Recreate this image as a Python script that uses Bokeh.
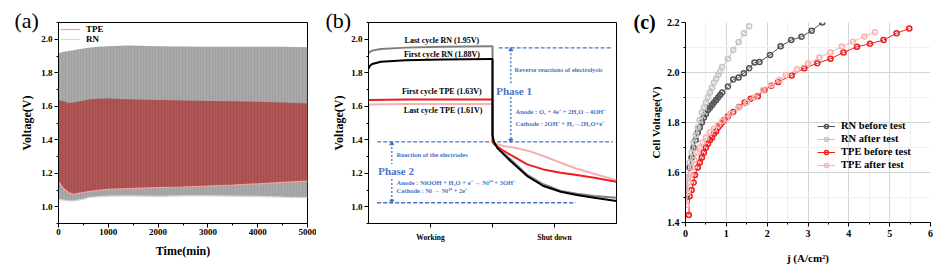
from bokeh.plotting import figure
from bokeh.layouts import row
from bokeh.models import (Legend, LegendItem, FixedTicker, Range1d, PrintfTickFormatter, Title)
from bokeh.core.properties import value
from bokeh.embed import file_html
from bokeh.resources import INLINE

SERIF = "Liberation Serif"

# ---------------- (a) long-term cycling envelopes ----------------
time_min = [0, 100, 200, 300, 400, 500, 600, 800, 1000, 1400, 2000, 2500, 3000, 3500, 4000, 4500, 5000]
rn_upper = [1.915, 1.925, 1.93, 1.935, 1.94, 1.945, 1.95, 1.955, 1.958, 1.962, 1.958, 1.957, 1.955, 1.955, 1.955, 1.955, 1.952]
rn_lower = [1.045, 1.04, 1.035, 1.035, 1.04, 1.045, 1.055, 1.06, 1.064, 1.065, 1.062, 1.065, 1.065, 1.064, 1.062, 1.058, 1.055]
tpe_upper = [1.637, 1.63, 1.62, 1.622, 1.628, 1.633, 1.64, 1.645, 1.647, 1.642, 1.637, 1.635, 1.632, 1.63, 1.627, 1.622, 1.617]
tpe_lower = [1.15, 1.11, 1.085, 1.074, 1.08, 1.085, 1.09, 1.098, 1.104, 1.108, 1.114, 1.118, 1.124, 1.13, 1.137, 1.145, 1.153]

# ---------------- (b) single-cycle profiles ----------------
b_x_rn = [0, 0.01, 0.03, 0.1, 0.3, 0.6, 0.99, 1.0, 1.0, 1.01, 1.04, 1.145, 1.28, 1.41, 1.55, 1.68, 1.82, 2.0]
rn_last = [1.915, 1.925, 1.932, 1.942, 1.95, 1.955, 1.958, 1.958, 1.43, 1.39, 1.35, 1.283, 1.19, 1.134, 1.094, 1.078, 1.064, 1.054]
rn_first = [1.825, 1.84, 1.852, 1.866, 1.875, 1.879, 1.882, 1.882, 1.43, 1.39, 1.35, 1.273, 1.183, 1.124, 1.09, 1.07, 1.054, 1.034]
b_x_tpe = [0, 0.01, 0.3, 0.6, 0.99, 1.0, 1.0, 1.01, 1.09, 1.28, 1.41, 1.55, 1.68, 1.82, 2.0]
tpe_first = [1.635, 1.638, 1.64, 1.641, 1.64, 1.64, 1.392, 1.375, 1.333, 1.253, 1.223, 1.203, 1.189, 1.173, 1.149]
b_x_tpe2 = [0, 0.0, 0.01, 0.3, 0.6, 0.99, 1.0, 1.0, 1.01, 1.09, 1.2, 1.31, 1.41, 1.55, 1.68, 1.82, 2.0]
tpe_last = [1.36, 1.605, 1.61, 1.613, 1.614, 1.614, 1.614, 1.392, 1.38, 1.363, 1.349, 1.329, 1.303, 1.263, 1.227, 1.197, 1.159]
b_tick_labels = {0.5: "Working", 1.0: "", 1.5: "Shut down"}

# ---------------- (c) polarization curves ----------------
rn_before_j = [0.02, 0.05, 0.1, 0.15, 0.2, 0.25, 0.3, 0.35, 0.4, 0.45, 0.5, 0.55, 0.6, 0.65, 0.7, 0.75, 0.8, 0.85, 0.9,
               1.04, 1.17, 1.30, 1.43, 1.56, 1.69, 1.81, 2.07, 2.33, 2.59, 2.84, 3.09, 3.35]
rn_before_v = [1.50, 1.58, 1.62, 1.66, 1.70, 1.73, 1.76, 1.78, 1.80, 1.82, 1.835, 1.85, 1.86, 1.87, 1.88, 1.89, 1.90, 1.91, 1.92,
               1.944, 1.972, 1.98, 1.997, 2.017, 2.04, 2.042, 2.07, 2.105, 2.13, 2.143, 2.167, 2.2]
rn_after_j = [0.02, 0.05, 0.1, 0.15, 0.2, 0.25, 0.3, 0.35, 0.4, 0.45, 0.5, 0.55, 0.6, 0.65, 0.7, 0.75, 0.8, 0.85, 0.9,
              1.04, 1.17, 1.30, 1.43, 1.56]
rn_after_v = [1.47, 1.58, 1.64, 1.68, 1.72, 1.75, 1.78, 1.81, 1.84, 1.86, 1.88, 1.90, 1.92, 1.94, 1.96, 1.975, 1.99, 2.005, 2.022,
              2.055, 2.09, 2.122, 2.157, 2.185]
tpe_before_j = [0.08, 0.1, 0.15, 0.2, 0.23, 0.3, 0.35, 0.4, 0.45, 0.5, 0.55, 0.6, 0.65, 0.7, 0.75, 0.8, 0.85, 0.9, 0.95,
                1.04, 1.17, 1.31, 1.45, 1.6, 1.77, 1.93, 2.10, 2.27, 2.6, 2.91, 3.23, 3.55, 3.87, 4.2, 4.52, 4.85, 5.17, 5.48]
tpe_before_v = [1.43, 1.505, 1.53, 1.56, 1.59, 1.62, 1.64, 1.66, 1.68, 1.70, 1.715, 1.73, 1.74, 1.755, 1.765, 1.78, 1.79, 1.80, 1.81,
                1.824, 1.842, 1.862, 1.88, 1.895, 1.905, 1.93, 1.947, 1.962, 1.988, 2.017, 2.037, 2.055, 2.08, 2.103, 2.115, 2.13, 2.157, 2.176]
tpe_after_j = [0.03, 0.05, 0.08, 0.12, 0.17, 0.22, 0.28, 0.35, 0.42, 0.5, 0.6, 0.7, 0.8, 0.9, 1.0,
               1.1, 1.3, 1.5, 1.7, 1.9, 2.1, 2.3, 2.46, 2.73, 3.0, 3.28, 3.55, 3.83, 4.1, 4.38, 4.64]
tpe_after_v = [1.47, 1.52, 1.56, 1.59, 1.62, 1.65, 1.68, 1.70, 1.72, 1.74, 1.76, 1.775, 1.79, 1.805, 1.815,
               1.835, 1.86, 1.88, 1.90, 1.93, 1.95, 1.97, 1.99, 2.013, 2.036, 2.06, 2.08, 2.104, 2.123, 2.144, 2.161]


def style_common(p, tick_size):
    for ax in (p.xaxis, p.yaxis):
        ax.major_label_text_font = SERIF
        ax.major_label_text_font_style = "bold"
        ax.major_label_text_font_size = tick_size
        ax.major_label_text_color = "black"
        ax.axis_label_text_font = SERIF
        ax.axis_label_text_font_style = "bold"
        ax.axis_label_text_font_size = "12px"
        ax.axis_label_text_color = "black"
        ax.axis_line_color = "black"
        ax.major_tick_line_color = "black"
        ax.minor_tick_line_color = "black"
        ax.major_tick_out = 4
        ax.major_tick_in = 0
        ax.minor_tick_out = 2
        ax.minor_tick_in = 0
        ax.major_label_standoff = 2
        ax.axis_label_standoff = 3
    p.background_fill_color = "white"
    p.border_fill_color = "white"


def panel_title(p, text, offset, size, style="normal"):
    p.add_layout(Title(text=text, align="left", offset=offset, standoff=-20, text_font=SERIF,
                       text_font_size=size, text_font_style=style, text_color="black"), "above")


# ===== panel (a) =====
pa = figure(frame_width=249, frame_height=201, min_border_left=58, min_border_right=9,
            min_border_top=22, min_border_bottom=46, output_backend="svg", toolbar_location=None,
            x_range=Range1d(0, 5000), y_range=Range1d(0.9, 2.1))
style_common(pa, "9px")
pa.xgrid.visible = False
pa.ygrid.visible = False
pa.outline_line_color = "black"
pa.outline_line_alpha = 1
pa.xaxis.ticker = FixedTicker(ticks=[0, 1000, 2000, 3000, 4000, 5000],
                              minor_ticks=[500, 1500, 2500, 3500, 4500])
pa.yaxis.ticker = FixedTicker(ticks=[1.0, 1.2, 1.4, 1.6, 1.8, 2.0],
                              minor_ticks=[0.9, 1.1, 1.3, 1.5, 1.7, 1.9, 2.1])
pa.yaxis.formatter = PrintfTickFormatter(format="%.1f")
pa.xaxis.axis_label = "Time(min)"
pa.yaxis.axis_label = "Voltage(V)"
pa.xaxis.major_label_standoff = 1
pa.xaxis.axis_label_standoff = 6
pa.yaxis.axis_label_standoff = 4
pa.varea(x=time_min, y1=rn_lower, y2=rn_upper, fill_color="#a9a9a9",
         hatch_pattern="vertical_line", hatch_color="#7a7a7a", hatch_alpha=0.35,
         hatch_scale=3, hatch_weight=0.6)
pa.varea(x=time_min, y1=tpe_lower, y2=tpe_upper, fill_color="#ae5555",
         hatch_pattern="vertical_line", hatch_color="#8a3030", hatch_alpha=0.35,
         hatch_scale=3, hatch_weight=0.6)
leg_tpe = pa.line(x=time_min, y=tpe_lower, line_color="#f4a0a0", line_width=1.2)
leg_rn = pa.line(x=time_min, y=rn_lower, line_color="#d6d6d6", line_width=1.2)
la = Legend(items=[LegendItem(label="TPE", renderers=[leg_tpe]),
                   LegendItem(label="RN", renderers=[leg_rn])],
            location="top_left", border_line_alpha=0, background_fill_alpha=0,
            label_text_font=SERIF, label_text_font_style="bold", label_text_font_size="9px",
            label_text_color="black",
            glyph_width=20, glyph_height=8, label_height=8, spacing=0, padding=1, margin=1,
            label_standoff=6)
pa.add_layout(la)
panel_title(pa, "(a)", -44, "22px")

# ===== panel (b) =====
pb = figure(frame_width=248, frame_height=201, min_border_left=52, min_border_right=16,
            min_border_top=22, min_border_bottom=46, output_backend="svg", toolbar_location=None,
            x_range=Range1d(0, 2), y_range=Range1d(0.9, 2.1))
style_common(pb, "9px")
pb.xgrid.visible = False
pb.ygrid.visible = False
pb.outline_line_color = "black"
pb.xaxis.ticker = FixedTicker(ticks=list(b_tick_labels.keys()), minor_ticks=[])
pb.xaxis.major_label_overrides = b_tick_labels
pb.xaxis.major_label_text_font_size = "7.5px"
pb.xaxis.major_label_standoff = 5
pb.yaxis.ticker = FixedTicker(ticks=[1.0, 1.2, 1.4, 1.6, 1.8, 2.0],
                              minor_ticks=[0.9, 1.1, 1.3, 1.5, 1.7, 1.9, 2.1])
pb.yaxis.formatter = PrintfTickFormatter(format="%.1f")
pb.yaxis.axis_label = "Voltage(V)"
pb.yaxis.axis_label_standoff = 2

blue = "#4a72c8"
pb.segment(x0=[1.05, 0.07, 0.07], y0=[1.948, 1.387, 1.024], x1=[1.97, 1.97, 1.67], y1=[1.948, 1.387, 1.024],
           line_color=blue, line_dash="4 2", line_width=1.3)
pb.segment(x0=[1.148, 1.148, 0.188, 0.188], y0=[1.94, 1.655, 1.38, 1.165],
           x1=[1.148, 1.148, 0.188, 0.188], y1=[1.735, 1.395, 1.255, 1.032],
           line_color=blue, line_dash="2 2", line_width=1.3)
pb.scatter(x=[1.148, 0.188], y=[1.938, 1.377], marker="triangle", size=4, color=blue)
pb.scatter(x=[1.148, 0.188], y=[1.397, 1.034], marker="inverted_triangle", size=4, color=blue)

pb.line(b_x_tpe2, tpe_last, line_color="#f7b0b0", line_width=2)
pb.line(b_x_tpe, tpe_first, line_color="#ee1c1c", line_width=2)
pb.line(b_x_rn, rn_last, line_color="#7f7f7f", line_width=2)
pb.line(b_x_rn, rn_first, line_color="#000000", line_width=2)

def btxt(x, y, t, size="7px", color=blue, style="bold", align="left"):
    pb.text(x=[x], y=[y], text=[t], text_font=value(SERIF), text_font_size=size,
            text_font_style=style, text_color=color, text_baseline="middle", text_align=align)

btxt(0.60, 1.99, "Last cycle RN  (1.95V)", "8px", "black", "bold", "center")
btxt(0.60, 1.909, "First cycle RN  (1.88V)", "8px", "black", "bold", "center")
btxt(0.60, 1.686, "First cycle TPE  (1.63V)", "8px", "black", "bold", "center")
btxt(0.61, 1.576, "Last cycle TPE  (1.61V)", "8px", "black", "bold", "center")
btxt(1.03, 1.69, "Phase 1", "11px")
btxt(1.177, 1.82, "Reverse reactions of electrolysis", "6.5px")
btxt(1.185, 1.571, "Anode : O\u2082 + 4e\u207b + 2H\u2082O\u21924OH\u207b", "6.5px")
btxt(1.185, 1.496, "Cathode : 2OH\u207b + H\u2082\u21922H\u2082O+e\u207b", "6.5px")
btxt(0.226, 1.31, "Reaction of the electrodes", "6.5px")
btxt(0.078, 1.212, "Phase 2", "11px")
btxt(0.226, 1.145, "Anode : NiOOH + H\u2082O + e\u207b \u2192 Ni\u00b2\u207a + 3OH\u207b", "6.5px")
btxt(0.226, 1.095, "Cathode : Ni \u2192 Ni\u00b2\u207a + 2e\u207b", "6.5px")
panel_title(pb, "(b)", -43, "22px")

# ===== panel (c) =====
pc = figure(frame_width=245, frame_height=200, min_border_left=53, min_border_right=18,
            min_border_top=21, min_border_bottom=48, output_backend="svg", toolbar_location=None,
            x_range=Range1d(0, 6), y_range=Range1d(1.4, 2.2))
style_common(pc, "10px")
pc.outline_line_color = None
pc.xaxis.ticker = FixedTicker(ticks=[0, 1, 2, 3, 4, 5, 6], minor_ticks=[0.5, 1.5, 2.5, 3.5, 4.5, 5.5])
pc.yaxis.ticker = FixedTicker(ticks=[1.4, 1.6, 1.8, 2.0, 2.2], minor_ticks=[1.5, 1.7, 1.9, 2.1])
pc.yaxis.formatter = PrintfTickFormatter(format="%.1f")
pc.xaxis.axis_label = "j (A/cm\u00b2)"
pc.yaxis.axis_label = "Cell Voltage(V)"
pc.xaxis.axis_label_text_font_size = "11px"
pc.yaxis.axis_label_text_font_size = "11px"
pc.xaxis.major_label_standoff = 3
pc.xaxis.axis_label_standoff = 12
pc.yaxis.major_label_standoff = 2
pc.yaxis.axis_label_standoff = 2
for g in (pc.xgrid, pc.ygrid):
    g.grid_line_color = "#d4d4d4"
    g.grid_line_width = 1
    g.minor_grid_line_color = "#efefef"
    g.minor_grid_line_width = 1

series = [
    ("RN before test", rn_before_j, rn_before_v, "#555555"),
    ("RN after test", rn_after_j, rn_after_v, "#c4c4c4"),
    ("TPE before test", tpe_before_j, tpe_before_v, "#f02020"),
    ("TPE after test", tpe_after_j, tpe_after_v, "#f8b4b4"),
]
items = []
for name, xs, ys, col in series:
    ln = pc.line(xs, ys, line_color=col, line_width=1)
    sc = pc.scatter(xs, ys, marker="circle", size=5, fill_color="white", fill_alpha=0,
                    line_color=col, line_width=1.6)
    items.append(LegendItem(label=name, renderers=[ln, sc]))
lc = Legend(items=items, location=(130, 50), border_line_alpha=0, background_fill_alpha=0,
            label_text_font=SERIF, label_text_font_style="bold", label_text_font_size="10.5px",
            label_text_color="black",
            glyph_width=18, glyph_height=10, label_height=10, spacing=2, padding=2, margin=0,
            label_standoff=6)
pc.add_layout(lc)
panel_title(pc, "(c)", -52, "20px", "bold")

layout = row(pa, pb, pc, spacing=0)
open("out.html", "w").write(file_html(layout, INLINE))
